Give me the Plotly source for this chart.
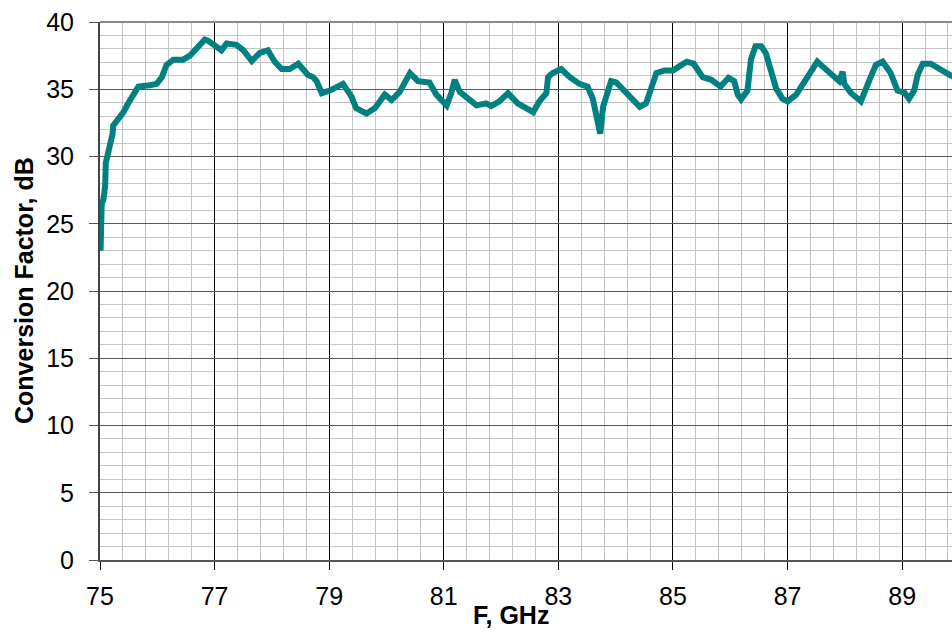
import plotly.graph_objects as go

# Frequency (GHz) and conversion factor (dB)
freq_ghz = [75.01, 75.02, 75.03, 75.06, 75.09, 75.10, 75.14, 75.16, 75.22, 75.23,
            75.32, 75.41, 75.49, 75.58, 75.67, 75.87, 75.99, 76.08, 76.16, 76.28,
            76.45, 76.57, 76.69, 76.83, 76.89, 77.01, 77.12, 77.21, 77.38, 77.50,
            77.65, 77.79, 77.93, 78.05, 78.17, 78.31, 78.46, 78.63, 78.72, 78.78,
            78.87, 79.01, 79.24, 79.39, 79.47, 79.65, 79.80, 79.97, 80.09, 80.23,
            80.41, 80.55, 80.75, 80.87, 81.05, 81.13, 81.19, 81.28, 81.45, 81.57,
            81.74, 81.83, 81.97, 82.12, 82.29, 82.41, 82.56, 82.67, 82.79, 82.82,
            82.90, 83.05, 83.20, 83.37, 83.51, 83.60, 83.66, 83.69, 83.73, 83.78,
            83.86, 83.92, 84.01, 84.15, 84.30, 84.42, 84.53, 84.62, 84.71, 84.85,
            85.00, 85.11, 85.24, 85.36, 85.52, 85.67, 85.83, 85.97, 86.07, 86.13,
            86.19, 86.30, 86.36, 86.44, 86.54, 86.62, 86.71, 86.80, 86.91, 87.00,
            87.15, 87.29, 87.41, 87.52, 87.61, 87.76, 87.90, 87.96, 87.99, 88.11,
            88.28, 88.43, 88.54, 88.66, 88.80, 88.92, 89.04, 89.12, 89.21, 89.27,
            89.36, 89.50, 89.59, 89.70, 89.86, 90.00]
conv_db = [23.0, 25.0, 26.5, 26.8, 27.8, 29.5, 30.2, 31.0, 31.7, 32.3,
           32.8, 33.3, 33.95, 34.6, 35.2, 35.3, 35.4, 35.9, 36.8, 37.2,
           37.2, 37.5, 38.0, 38.7, 38.6, 38.2, 37.9, 38.4, 38.3, 37.9,
           37.1, 37.7, 37.9, 37.05, 36.5, 36.5, 36.9, 36.06, 35.9, 35.6,
           34.7, 34.9, 35.4, 34.45, 33.6, 33.2, 33.6, 34.6, 34.2, 34.8,
           36.2, 35.6, 35.5, 34.6, 33.8, 34.7, 35.7, 34.8, 34.2, 33.8,
           33.95, 33.75, 34.1, 34.7, 33.95, 33.7, 33.3, 34.1, 34.7, 35.9,
           36.2, 36.5, 35.9, 35.4, 35.2, 34.3, 33.0, 32.1, 31.7, 33.7,
           34.7, 35.6, 35.5, 34.9, 34.3, 33.7, 33.95, 35.2, 36.2, 36.4,
           36.4, 36.7, 37.05, 36.9, 35.9, 35.7, 35.2, 35.85, 35.6, 34.6,
           34.25, 34.9, 37.2, 38.2, 38.2, 37.7, 36.3, 35.06, 34.3, 34.1,
           34.6, 35.6, 36.4, 37.05, 36.7, 36.06, 35.6, 36.3, 35.4, 34.7,
           34.1, 35.7, 36.8, 37.05, 36.2, 34.9, 34.75, 34.3, 34.9, 36.06,
           36.9, 36.9, 36.7, 36.4, 36.0, 35.9]

x_tick_vals = [75, 77, 79, 81, 83, 85, 87, 89]
y_tick_vals = [0, 5, 10, 15, 20, 25, 30, 35, 40]

FONT = "Liberation Sans, Arial, sans-serif"

fig = go.Figure()
fig.add_trace(go.Scatter(
    x=freq_ghz, y=conv_db, mode="lines",
    line=dict(color="#008080", width=6),
    showlegend=False,
))

fig.update_layout(
    width=952, height=632,
    margin=dict(l=100, r=0, t=22, b=72),
    paper_bgcolor="white", plot_bgcolor="white",
    font=dict(family=FONT, size=25, color="black"),
    xaxis=dict(
        range=[75, 89.87], tickvals=x_tick_vals, ticktext=[str(v) for v in x_tick_vals],
        ticks="outside", ticklen=8, tickcolor="black", tickwidth=1,
        showgrid=True, gridcolor="black", gridwidth=1,
        minor=dict(dtick=0.4, tick0=75, showgrid=True, gridcolor="#c4c4c4", gridwidth=1),
        showline=True, linecolor="#555555", linewidth=2,
        zeroline=False, ticklabelstandoff=5,
        tickfont=dict(size=25),
    ),
    yaxis=dict(
        range=[0, 40], tickvals=y_tick_vals,
        ticks="outside", ticklen=9, tickcolor="#555555", tickwidth=1,
        showgrid=True, gridcolor="#5a5a5a", gridwidth=1,
        minor=dict(dtick=1, tick0=0, showgrid=True, gridcolor="#c4c4c4", gridwidth=1),
        showline=True, linecolor="#444444", linewidth=2,
        zeroline=False, ticklabelstandoff=10,
        tickfont=dict(size=25),
    ),
    shapes=[dict(type="line", xref="paper", yref="paper", x0=0, x1=1, y0=1, y1=1,
                 line=dict(color="#8a8a8a", width=2))],
    annotations=[
        dict(text="<b>F, GHz</b>", xref="paper", yref="paper", x=0.482, y=-0.102,
             xanchor="center", yanchor="middle", showarrow=False,
             font=dict(family=FONT, size=25, color="black")),
        dict(text="<b>Conversion Factor, dB</b>", xref="paper", yref="paper",
             x=-0.0892, y=0.5, xanchor="center", yanchor="middle", textangle=-90,
             showarrow=False, font=dict(family=FONT, size=25, color="black")),
    ],
)

fig.write_html(
    "out.html",
    config={"displayModeBar": False},
    post_script=("document.documentElement.style.margin='0';"
                 "document.body.style.margin='0';"
                 "document.documentElement.style.overflow='hidden';"
                 "document.body.style.overflow='hidden';"),
)
